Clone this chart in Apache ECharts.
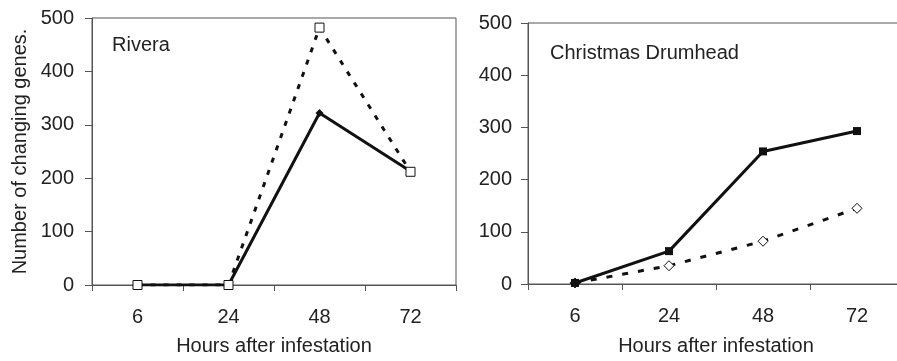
<!DOCTYPE html>
<html>
<head>
<meta charset="utf-8">
<script src="https://cdn.jsdelivr.net/npm/echarts@6/dist/echarts.min.js"></script>
<style>html,body{margin:0;padding:0;background:#fff;overflow:hidden}#c{width:920px;height:361px}</style>
</head>
<body>
<div id="c"></div>
<script>
const categories = ['6', '24', '48', '72'];
const yTicks = [0, 100, 200, 300, 400, 500];
const riveraSolid = [0, 0, 322, 213];
const riveraDotted = [0, 0, 482, 212];
const drumheadSolid = [2, 63, 254, 293];
const drumheadDotted = [2, 35, 82, 145];
const panelTitles = ['Rivera', 'Christmas Drumhead'];
const xName = 'Hours after infestation';
const yName = 'Number of changing genes.';

const font = 'Liberation Sans, Arial, sans-serif';
const axisColor = '#555';
const textColor = '#222';
const fs = 20;

function xAxis(gridIndex, gap) {
  return {
    type: 'category', gridIndex, data: categories, boundaryGap: true,
    name: xName, nameLocation: 'middle', nameGap: gap,
    nameTextStyle: { fontFamily: font, fontSize: fs, color: textColor },
    axisLine: { lineStyle: { color: axisColor, width: 1 } },
    axisTick: { show: true, length: 6, inside: false, lineStyle: { color: axisColor } },
    axisLabel: { fontFamily: font, fontSize: fs, color: textColor, margin: 22 },
    splitLine: { show: false }
  };
}
function yAxis(gridIndex, withName, margin) {
  return {
    type: 'value', gridIndex, min: yTicks[0], max: yTicks[yTicks.length - 1], interval: 100,
    name: withName ? yName : '', nameLocation: 'middle', nameGap: 62,
    nameTextStyle: { fontFamily: font, fontSize: fs, color: textColor },
    axisLine: { show: true, lineStyle: { color: axisColor, width: 1 } },
    axisTick: { show: true, length: 7, lineStyle: { color: axisColor } },
    axisLabel: { fontFamily: font, fontSize: fs, color: textColor, margin: margin },
    splitLine: { show: false }
  };
}

const chart = echarts.init(document.getElementById('c'));
chart.setOption({
  animation: false,
  backgroundColor: '#fff',
  title: [
    { text: panelTitles[0], left: 112, top: 35, padding: 0, textStyle: { fontFamily: font, fontSize: fs, fontWeight: 'normal', color: textColor } },
    { text: panelTitles[1], left: 550, top: 43, padding: 0, textStyle: { fontFamily: font, fontSize: fs, fontWeight: 'normal', color: textColor } }
  ],
  grid: [
    { left: 92, top: 18, width: 364, height: 271, show: true, borderColor: axisColor, borderWidth: 1, containLabel: false },
    { left: 528, top: 23, width: 376, height: 267, show: true, borderColor: axisColor, borderWidth: 1, containLabel: false }
  ],
  xAxis: [xAxis(0, 51), xAxis(1, 52)],
  yAxis: [yAxis(0, true, 18), yAxis(1, false, 16)],
  series: [
    { type: 'line', xAxisIndex: 0, yAxisIndex: 0, data: riveraSolid, symbol: 'diamond', symbolSize: 8,
      itemStyle: { color: '#111' }, lineStyle: { color: '#111', width: 3 }, z: 2 },
    { type: 'line', xAxisIndex: 0, yAxisIndex: 0, data: riveraDotted, symbol: 'rect', symbolSize: 9,
      itemStyle: { color: '#fff', borderColor: '#111', borderWidth: 1 }, lineStyle: { color: '#111', width: 3, type: [5, 8] }, z: 3 },
    { type: 'line', xAxisIndex: 1, yAxisIndex: 1, data: drumheadDotted, symbol: 'diamond', symbolSize: 10,
      itemStyle: { color: '#fff', borderColor: '#111', borderWidth: 1 }, lineStyle: { color: '#111', width: 3, type: [6, 10] }, z: 2 },
    { type: 'line', xAxisIndex: 1, yAxisIndex: 1, data: drumheadSolid, symbol: 'rect', symbolSize: 8,
      itemStyle: { color: '#111' }, lineStyle: { color: '#111', width: 3 }, z: 3 }
  ]
});
</script>
</body>
</html>
